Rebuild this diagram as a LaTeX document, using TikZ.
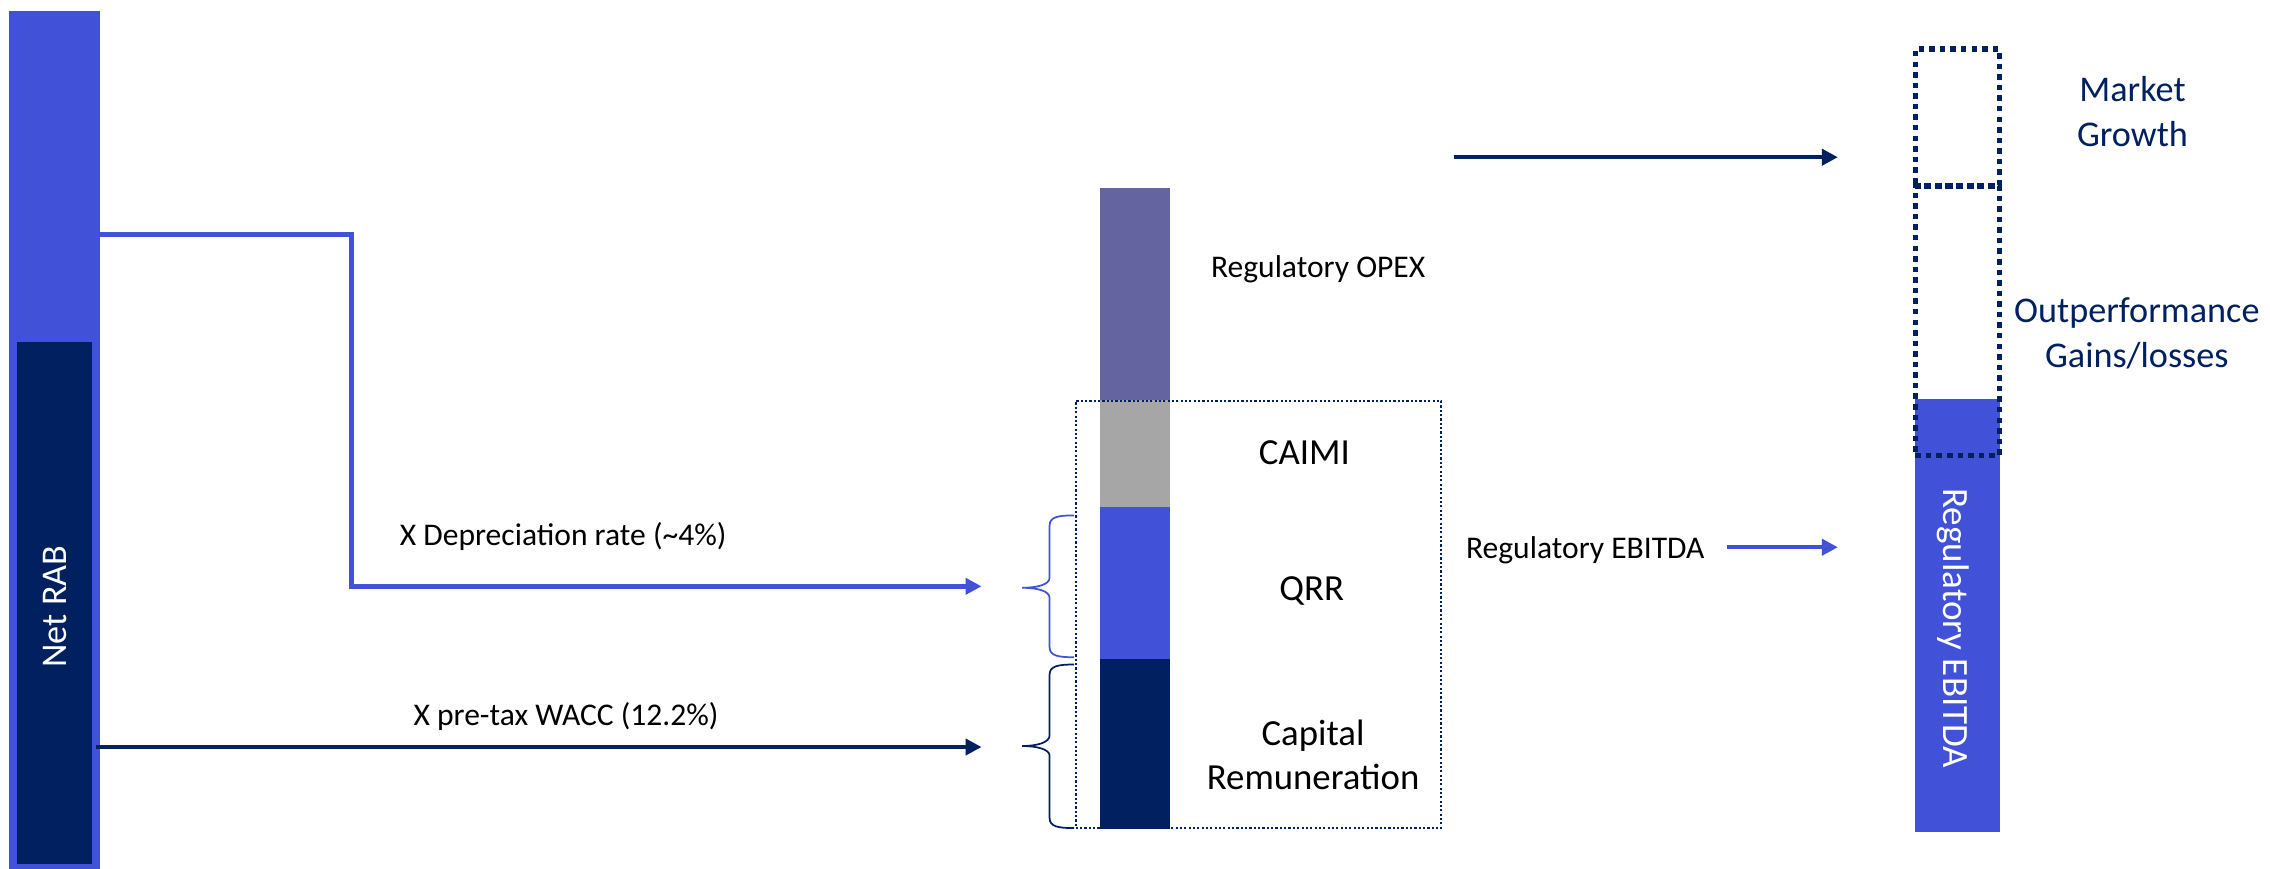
\documentclass[tikz,border=0pt]{standalone}
\usepackage{fontspec}
\setmainfont{Carlito}
\usetikzlibrary{arrows.meta,fit,calc}
\definecolor{lblue}{HTML}{4152D8}
\definecolor{navy}{HTML}{002060}
\definecolor{opexc}{HTML}{6464A1}
\definecolor{caimic}{HTML}{A6A6A6}
\begin{document}
\begin{tikzpicture}[x=0.5pt,y=-0.5pt,
  blk/.style={inner sep=0pt, outer sep=0pt, draw=none},
  lbl/.style={inner sep=0pt, font=\fontsize{10.9}{13}\selectfont},
  biglbl/.style={inner sep=0pt, align=center, font=\fontsize{12.7}{15}\selectfont},
  navylbl/.style={inner sep=0pt, align=center, text=navy, font=\fontsize{12.5}{15.5}\selectfont},
  conn/.style={line width=1.7pt, -{Triangle[length=5.5pt,width=5.5pt]}},
  thinconn/.style={line width=1.4pt, -{Triangle[length=5.5pt,width=5.5pt]}},
  finedot/.style={draw=navy, line width=0.75pt, dash pattern=on 0.75pt off 0.75pt},
  bigdot/.style={draw=navy, line width=1.9pt, dash pattern=on 1.9pt off 1.75pt},
  bracestyle/.style={line width=0.6pt}
]
\useasboundingbox (0,0) rectangle (1568,600);
\fill[white] (0,0) rectangle (1568,600);

% left bars
\node[blk, fill=lblue, fit={(6.5,7.5) (69,601)}] (rab) {};
\node[blk, fill=navy, fit={(11.7,236.5) (63.6,596.5)}] (netrab) {};
\node[inner sep=0pt, text=white, rotate=90, font=\fontsize{12.5}{15}\selectfont] (netlbl) at (38,419) {Net RAB};

% middle stacked bar
\node[blk, fill=opexc, fit={(760,130) (808.5,276.5)}] (opex) {};
\node[blk, fill=caimic, fit={(760,276.5) (808.5,350)}] (caimi) {};
\node[blk, fill=lblue, fit={(760,350) (808.5,455)}] (qrr) {};
\node[blk, fill=navy, fit={(760,455) (808.5,572.5)}] (capr) {};
\node[finedot, inner sep=0pt, fit={(743,277) (995.5,572)}] (revbox) {};

\node[lbl, anchor=base] (opexl) at (910.5,191.5) {Regulatory OPEX};
\node[biglbl, anchor=base] (caimil) at (901,321) {CAIMI};
\node[biglbl, anchor=base] (qrrl) at (906,415) {QRR};
\node[biglbl, anchor=base] (capl) at (907,545) {Capital\\Remuneration};

% braces
\draw[lblue, bracestyle] (742,356) .. controls (731,356) and (725,357) .. (725,363) -- (725,399)
  .. controls (725,404) and (716,406) .. (706,406)
  .. controls (716,406) and (725,408) .. (725,413) -- (725,447)
  .. controls (725,453) and (731,454) .. (742,454);
\draw[navy, bracestyle] (742,459) .. controls (731,459) and (725,460) .. (725,466) -- (725,508)
  .. controls (725,513) and (716,515.3) .. (706,515.3)
  .. controls (716,515.3) and (725,517.5) .. (725,522) -- (725,565)
  .. controls (725,571) and (731,572) .. (742,572);

% left connectors
\coordinate (depA) at (68,162);
\coordinate (depC) at (243,405);
\coordinate (depB) at (678,405);
\draw[conn, lblue] (depA) -| (depC) -- (depB);
\node[lbl, anchor=base] (depl) at (389,376.5) {X Depreciation rate (\textasciitilde4\%)};

\coordinate (waccA) at (66,516);
\coordinate (waccB) at (678,516);
\draw[conn, navy] (waccA) -- (waccB);
\node[lbl, anchor=base] (waccl) at (391,501) {X pre-tax WACC (12.2\%)};

% right side
\node[blk, fill=lblue, fit={(1322.5,275.5) (1381.5,574.5)}] (ebitda) {};
\node[inner sep=0pt, text=white, rotate=-90, font=\fontsize{12.8}{15}\selectfont] (ebitdal) at (1349,434) {Regulatory EBITDA};
\node[bigdot, inner sep=0pt, fit={(1323,34) (1381,128.5)}] (mg) {};
\node[bigdot, inner sep=0pt, fit={(1323,128.5) (1381,314.5)}] (og) {};

\node[navylbl, anchor=base] (mgl) at (1473,101) {Market\\Growth};
\node[navylbl, anchor=base] (ogl) at (1476,254) {Outperformance\\Gains/losses};

\coordinate (topA) at (1004,108.6);
\coordinate (topB) at (1269.5,108.6);
\draw[thinconn, navy] (topA) -- (topB);

\node[lbl, anchor=base] (ebl) at (1095,385.5) {Regulatory EBITDA};
\coordinate (ebB) at (1269.5,378);
\draw[thinconn, lblue] (ebl.east |- ebB) ++(15,0) coordinate (ebA) -- (ebB);
\end{tikzpicture}
\end{document}
